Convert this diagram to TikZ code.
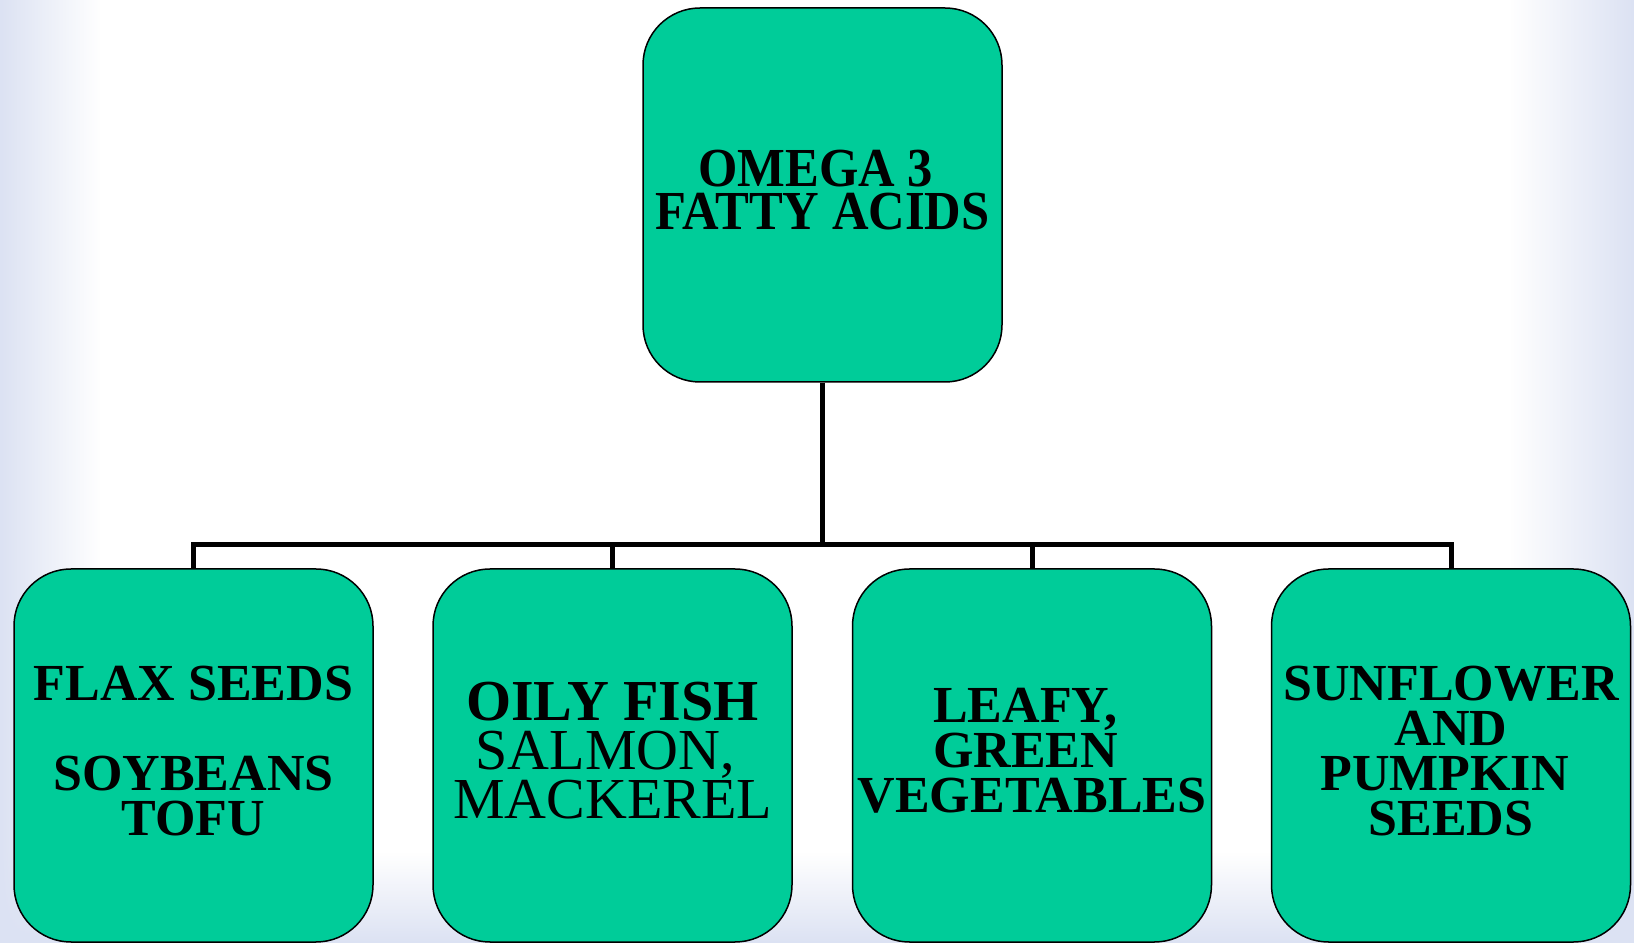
\documentclass[tikz,border=0pt]{standalone}
\usepackage{fontspec}
\setmainfont{Liberation Serif}
\newfontfamily\narrowserif{Liberation Serif}[FakeStretch=0.92]
\usetikzlibrary{fadings}

\definecolor{boxgreen}{RGB}{0,204,153}
\definecolor{edgeblue}{RGB}{220,226,243}
\newcommand{\trail}{\kern.25em}

\begin{document}
\begin{tikzpicture}[x=0.5pt, y=0.5pt,
  food/.style={draw=black, line width=0.75pt, fill=boxgreen, rounded corners=28.5pt,
    minimum width=179.5pt, minimum height=186.5pt, inner sep=0pt, align=center,
    font=\fontsize{26}{22.5}\selectfont\bfseries,
    execute at end node={\rule[-5pt]{0pt}{0pt}}},
  link/.style={line width=2.5pt}]
  % Background with soft blue edges
  \useasboundingbox (0,0) rectangle (1634,943);
  \fill[white] (0,0) rectangle (1634,943);
  \fill[edgeblue, path fading=north] (0,0) rectangle (1634,90);
  \fill[edgeblue, path fading=east] (0,0) rectangle (100,943);
  \fill[edgeblue, path fading=west] (1510,0) rectangle (1634,943);

  % Top box
  \node[food, minimum height=187pt, font=\narrowserif\fontsize{27.5}{21.5}\selectfont\bfseries]
    (omega) at (822.5,748) {OMEGA 3\trail\\FATTY ACIDS};

  % Food sources
  \node[food] (flax) at (193.5,187.5) {FLAX SEEDS\\[22.5pt]SOYBEANS\\TOFU};
  \node[food, font=\fontsize{29}{24.5}\selectfont] (fish) at (612.5,187.5)
    {\textbf{OILY FISH}\\SALMON,\trail\\MACKEREL};
  \node[food] (leafy) at (1032,187.5) {LEAFY,\trail\\GREEN\trail\\VEGETABLES};
  \node[food] (sun) at (1451,187.5) {SUNFLOWER\\AND\\PUMPKIN\trail\\SEEDS};

  % Connectors
  \coordinate (bar) at (0,398);
  \draw[link] (omega.south) -- (omega.south |- bar);
  \draw[link] (flax.north) -- (flax.north |- bar) -- (sun.north |- bar) -- (sun.north);
  \draw[link] (fish.north) -- (fish.north |- bar);
  \draw[link] (leafy.north) -- (leafy.north |- bar);
\end{tikzpicture}
\end{document}
